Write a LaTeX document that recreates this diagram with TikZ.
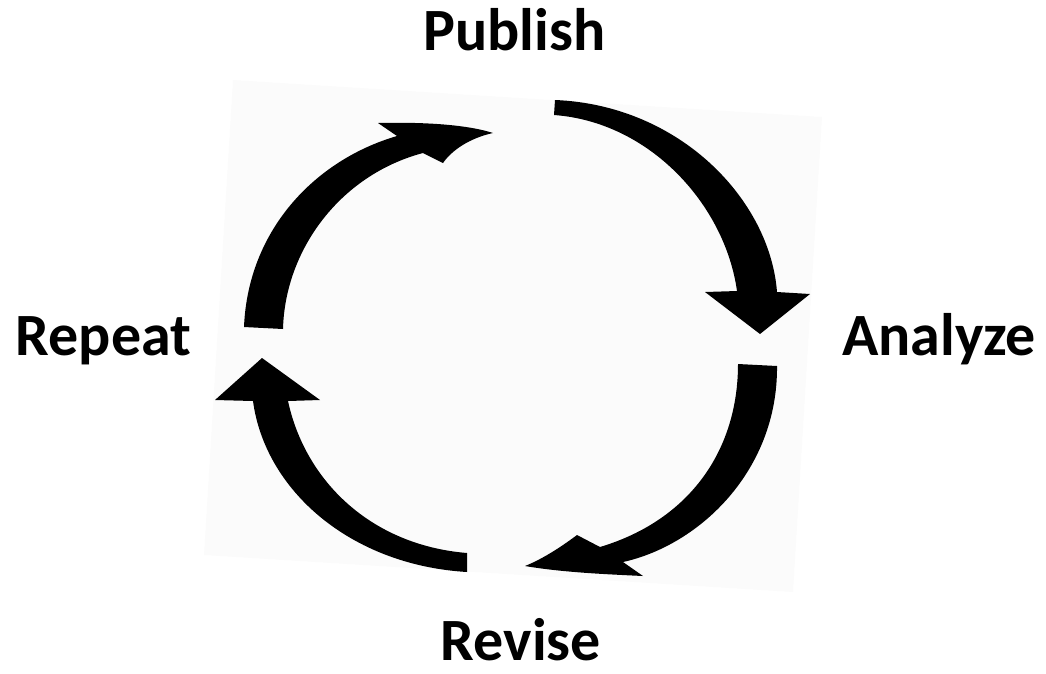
\documentclass[tikz,border=0pt]{standalone}
\usepackage{fontspec}
\setmainfont{Carlito}
\definecolor{card}{HTML}{FBFBFB}
\definecolor{ink}{HTML}{000000}

\begin{document}
\begin{tikzpicture}[x=1pt,y=-1pt,
    lbl/.style={font=\fontsize{60}{62}\selectfont\bfseries,
      text=ink,inner sep=0pt,anchor=base},
    blade/.style={fill=ink,draw=none},
  ]
  \useasboundingbox (0,0) rectangle (1046,673);
  % tilted card behind the loop
  \fill[card] (233,80) -- (822,117) -- (793,592) -- (204,555) -- cycle;

  % publish -> analyze
  \fill[blade] (555,100) .. controls (680,105) and (770,200) .. (777,292)
    -- (810,294) -- (760,334) -- (705,292) -- (737,291)
    .. controls (725,205) and (650,122) .. (554,115) -- cycle;

  % analyze -> revise
  \fill[blade] (777,366) .. controls (778,470) and (700,545) .. (623,562)
    -- (643,576) .. controls (600,574) and (560,572) .. (525,566)
    .. controls (545,558) and (565,544) .. (577,535) -- (600,547)
    .. controls (690,520) and (738,450) .. (738,364) -- cycle;

  % revise -> repeat
  \fill[blade] (467,572) .. controls (350,565) and (265,490) .. (253,401)
    -- (215,400) -- (262,358) -- (320,400) -- (288,401)
    .. controls (305,480) and (370,545) .. (467,553) -- cycle;

  % repeat -> publish
  \fill[blade] (244,327) .. controls (248,230) and (315,160) .. (397,136)
    -- (378,123) .. controls (420,122) and (465,124) .. (493,133)
    .. controls (470,138) and (452,150) .. (443,163) -- (423,153)
    .. controls (340,175) and (285,250) .. (283,329) -- cycle;

  \node[lbl] (publish) at (514.5,50) {Publish};
  \node[lbl] (analyze) at (939,355) {Analyze};
  \node[lbl] (repeat) at (103.5,355) {Repeat};
  \node[lbl] (revise) at (521,660) {Revise};
\end{tikzpicture}
\end{document}
